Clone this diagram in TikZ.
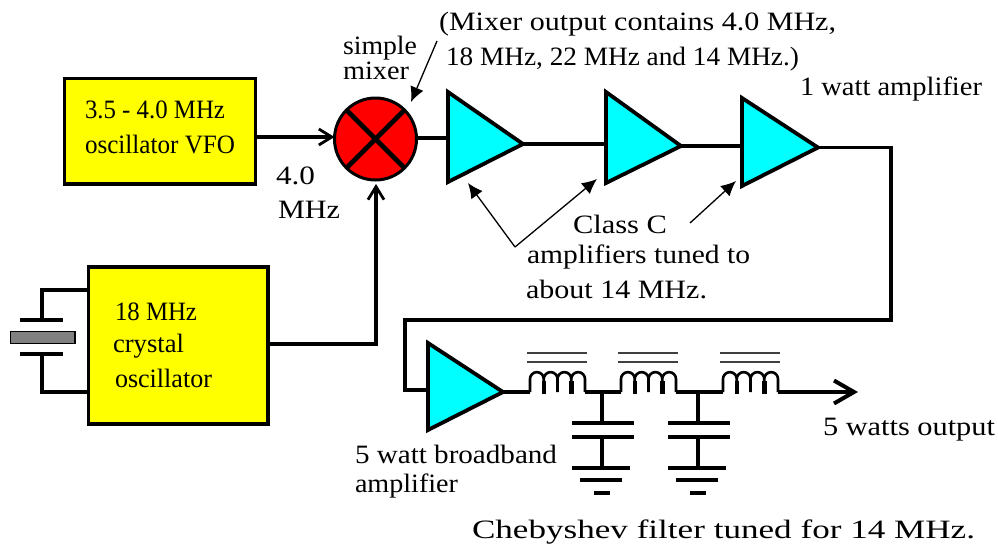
\documentclass[tikz,border=0pt]{standalone}
\usepackage{graphicx}
\usepackage{fontspec}
\setmainfont{Liberation Serif}
\usetikzlibrary{arrows.meta}
\definecolor{blockyellow}{RGB}{255,255,0}
\definecolor{mixred}{RGB}{255,0,0}
\definecolor{ampcyan}{RGB}{0,255,255}
\definecolor{quartz}{RGB}{128,128,128}
\tikzset{
  x=1pt,y=-1pt,
  wire/.style={draw=black,line width=3.4pt},
  thinwire/.style={draw=black,line width=2.6pt},
  block/.style={draw=black,line width=3.6pt,fill=blockyellow,inner sep=0,outer sep=0,rectangle},
  mixer/.style={draw=black,line width=3pt,fill=mixred,circle,inner sep=0,outer sep=0,minimum size=82pt},
  ampl/.style={draw=black,line width=3.8pt,fill=ampcyan,line join=miter},
  barb/.style={-{Straight Barb[length=13pt,width=16pt,line width=2.8pt]}},
  pointer/.style={draw=black,line width=1.3pt,-{Latex[length=15pt,width=14pt,black]}},
  lab/.style={anchor=base west,inner sep=0,outer sep=0,text=black,font=\fontsize{26.5}{26.5}\selectfont},
  plate/.style={draw=black,line width=3.4pt},
  core/.style={draw=black!75,line width=1.6pt},
}
\newcommand\fitlab[5]{\node[lab] (#1) at (#2,#3) {\resizebox{#4pt}{\height}{#5}};}
\newcommand\amplifier[6]{%
  \coordinate (#1-t) at (#2,#3);
  \coordinate (#1-b) at (#2,#4);
  \coordinate (#1-a) at (#5,#6);
  \path[ampl] (#1-t) -- (#1-a) -- (#1-b) -- cycle;
}
\newcommand\inductor[2]{%
  \coordinate (#1-l) at (#2,392);
  \coordinate (#1-r) at ({#2+55},392);
  \draw[thinwire,line join=round] (#1-l) -- ++(0,-13)
    arc[start angle=180,end angle=360,radius=6.875] -- ++(0,13)
    ++(0,-13) arc[start angle=180,end angle=360,radius=6.875] -- ++(0,13)
    ++(0,-13) arc[start angle=180,end angle=360,radius=6.875] -- ++(0,13)
    ++(0,-13) arc[start angle=180,end angle=360,radius=6.875] -- ++(0,13);
  \draw[draw=black,line width=4.5pt] ({#2+13.75},381) -- ({#2+13.75},393.5);
  \draw[draw=black,line width=4.5pt] ({#2+41.25},381) -- ({#2+41.25},393.5);
  \draw[core] ({#2-3.5},353) -- ({#2+56.5},353);
  \draw[core] ({#2-3.5},362) -- ({#2+56.5},362);
}
\newcommand\shuntcap[2]{%
  \coordinate (#1-j) at (#2,392);
  \coordinate (#1-p) at (#2,423);
  \coordinate (#1-q) at (#2,437);
  \coordinate (#1-g) at (#2,468);
  \draw[wire] (#1-j) -- (#1-p);
  \draw[wire] (#1-q) -- (#1-g);
  \draw[plate] ({#2-30},423) -- ({#2+32},423);
  \draw[plate] ({#2-30},437) -- ({#2+32},437);
  \draw[plate] ({#2-30},468) -- ({#2+28},468);
  \draw[plate] ({#2-22},480) -- ({#2+20},480);
  \draw[plate] ({#2-8},493) -- ({#2+8},493);
}
\begin{document}
\begin{tikzpicture}
\useasboundingbox (0,0) rectangle (998,544);

% blocks
\node[block,minimum width=191pt,minimum height=105.5pt] (vfo) at (160,131.25) {};
\node[block,minimum width=179.5pt,minimum height=157pt] (xo) at (178.25,345.5) {};
\node[mixer] (mix) at (375.5,139) {};
\draw[draw=black,line width=4.8pt] (mix.45) -- (mix.225);
\draw[draw=black,line width=4.8pt] (mix.135) -- (mix.315);

% amplifiers
\amplifier{a1}{448}{92}{182}{523}{144}
\amplifier{a2}{606}{92}{183}{681}{146}
\amplifier{a3}{742}{98}{186}{818}{147.5}
\amplifier{a4}{428}{343}{430}{503}{392}

% connector end points
\coordinate (vfoout) at (vfo.east |- 0,137);
\coordinate (mixin) at (mix.west |- 0,137);
\coordinate (mixup) at (376,184);
\coordinate (xoout) at (xo.east |- 0,344);
\coordinate (xocorner) at (376,344);
\coordinate (mixout) at (mix.east |- 0,138);
\coordinate (a1in) at (448,138);
\coordinate (a2in) at (606,144);
\coordinate (a3in) at (742,147);
\coordinate (c1) at (891,147);
\coordinate (c2) at (891,320);
\coordinate (c3) at (405,320);
\coordinate (c4) at (405,390);
\coordinate (a4in) at (428,390);

\draw[wire,barb] (vfoout) -- (mixin);
\draw[wire,barb] (xoout) -- (xocorner) -- (mixup);
\draw[wire] (mixout) -- (a1in);
\draw[wire] (a1-a) -- (a2in);
\draw[wire] (a2-a) -- (a2-a -| a3in);
\draw[wire] (a3-a) -- (a3-a -| c1) -- (c2) -- (c3) -- (c4) -- (a4in);

% crystal
\coordinate (xt) at (88,290);
\coordinate (xb) at (88,392);
\coordinate (xpt) at (42,320);
\coordinate (xpb) at (42,354);
\draw[wire] (xt) -- (42,290) -- (xpt);
\draw[wire] (xb) -- (42,392) -- (xpb);
\draw[plate] (20,320) -- (63,320);
\draw[plate] (20,354) -- (63,354);
\draw[draw=black,line width=1.6pt,fill=quartz] (10.5,331.5) rectangle (75,343.5);

% filter
\inductor{l1}{530}
\inductor{l2}{621}
\inductor{l3}{723}
\shuntcap{k1}{602}
\shuntcap{k2}{698}
\coordinate (out) at (858,392);
\draw[wire] (a4-a) -- (l1-l);
\draw[wire] (l1-r) -- (l2-l);
\draw[wire] (l2-r) -- (l3-l);
\draw[draw=black,line width=3.4pt,-{Straight Barb[length=20pt,width=23pt,line width=4pt]}] (l3-r) -- (out);

% pointers
\coordinate (p0) at (437,41);
\coordinate (p0t) at (411,102);
\draw[pointer] (p0) -- (p0t);
\coordinate (p1) at (515,247);
\coordinate (p1a) at (468,183);
\coordinate (p1b) at (597,179);
\draw[pointer] (p1) -- (p1a);
\draw[pointer] (p1) -- (p1b);
\coordinate (p2) at (690,223);
\coordinate (p2t) at (736,181);
\draw[pointer] (p2) -- (p2t);

% labels
\fitlab{t1}{85}{118}{140}{3.5 - 4.0 MHz}
\fitlab{t2}{85}{153}{150}{oscillator VFO}
\fitlab{t3}{343}{54}{74}{simple}
\fitlab{t4}{343}{79}{66}{mixer}
\fitlab{t5}{276}{184}{39}{4.0}
\fitlab{t6}{278}{218}{62}{MHz}
\fitlab{t7}{439}{30}{397}{(Mixer output contains 4.0 MHz,}
\fitlab{t8}{446}{65}{353}{18 MHz, 22 MHz and 14 MHz.)}
\fitlab{t9}{800}{95}{182}{1 watt amplifier}
\fitlab{t10}{573}{233}{94}{Class C}
\fitlab{t11}{527}{263}{223}{amplifiers tuned to}
\fitlab{t12}{526}{298}{181}{about 14 MHz.}
\fitlab{t13}{115}{320}{82}{18 MHz}
\fitlab{t14}{113}{352}{71}{crystal}
\fitlab{t15}{115}{387}{97}{oscillator}
\fitlab{t16}{355}{463}{202}{5 watt broadband}
\fitlab{t17}{355}{492}{103}{amplifier}
\fitlab{t18}{823}{435}{172}{5 watts output}
\fitlab{t19}{472}{538}{503}{Chebyshev filter tuned for 14 MHz.}
\end{tikzpicture}
\end{document}
